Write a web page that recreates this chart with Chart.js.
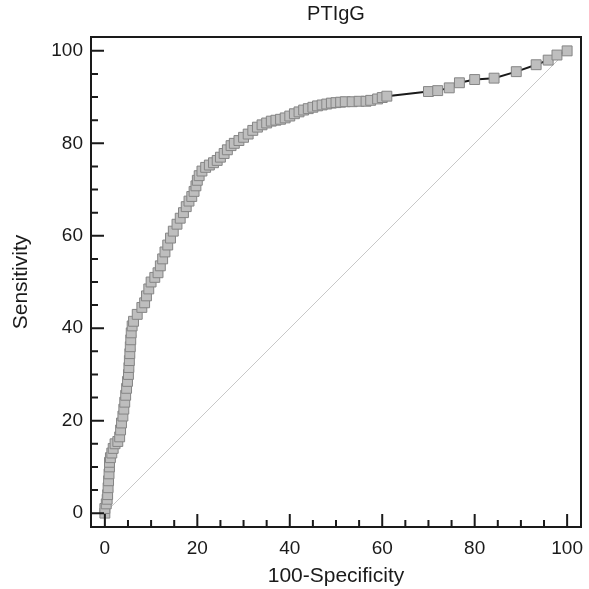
<!DOCTYPE html>
<html>
<head>
<meta charset="utf-8">
<script src="https://cdn.jsdelivr.net/npm/chart.js@4"></script>
<style>
  html, body { margin: 0; padding: 0; background: #fff; }
  #wrap { width: 589px; height: 589px; }
</style>
</head>
<body>
<div id="wrap"><canvas id="roc"></canvas></div>
<script>
/* ─── Data ──────────────────────────────────────────────────────────────── */
const fpr = [
  0, 0, 0.3, 0.5, 0.6, 0.7, 0.8, 0.9, 1, 1, 1.2, 1.5, 1.8, 2.2, 2.8, 3.2,
  3.4, 3.6, 3.9, 4.1, 4.3, 4.5, 4.7, 4.9, 5.1, 5.2, 5.3, 5.4, 5.5, 5.6, 5.7, 5.9,
  6.2, 7, 8, 8.6, 9, 9.5, 10, 10.8, 11.5, 12, 12.5, 13, 13.6, 14.2, 14.8, 15.6,
  16.3, 17, 17.6, 18.2, 18.8, 19.3, 19.7, 20, 20.4, 21, 21.8, 22.6, 23.5, 24.3,
  25, 25.8, 26.5, 27.3, 28, 29, 30, 31, 32, 33, 34, 35, 36, 37, 38, 39, 40, 41,
  42, 43, 44, 45, 46, 47, 48, 49, 50, 51, 52, 53.5, 55, 56.5, 57.5, 59, 60, 61,
  70, 72, 74.5, 76.7, 80, 84.2, 89, 93.3, 95.9, 97.8, 100
];
const tpr = [
  0, 1, 2, 3, 4, 5.5, 7, 8.5, 10, 11, 12, 13, 14, 15, 15.5, 16.5,
  18, 19.5, 21, 22.5, 24, 25.5, 27, 28.5, 30, 31.5, 33, 34.5, 36, 37.5, 39, 40.5,
  41.5, 43, 44.5, 45.5, 47, 48.5, 50, 51, 52, 53.5, 55, 56.5, 58, 59.5, 61, 62.5,
  63.8, 65, 66.3, 67.5, 68.5, 69.6, 70.8, 72, 73, 74, 74.8, 75.3, 75.8, 76.3,
  77, 77.8, 78.6, 79.5, 80, 80.6, 81.3, 82, 82.8, 83.5, 84, 84.4, 84.8, 85, 85.2, 85.5, 85.9, 86.4,
  86.8, 87.2, 87.5, 87.8, 88.1, 88.3, 88.5, 88.7, 88.8, 88.9, 89, 89, 89.1, 89.1, 89.3, 89.6, 89.9, 90.2,
  91.2, 91.4, 92, 93.1, 93.8, 94.1, 95.5, 97, 98, 99.1, 100
];
const refX = [0, 100];
const refY = [0, 100];

const tickMarks  = [0, 5, 10, 15, 20, 25, 30, 35, 40, 45, 50, 55, 60, 65, 70, 75, 80, 85, 90, 95, 100];
const tickLabels = [0, 20, 40, 60, 80, 100];

/* ─── Helpers ────────────────────────────────────────────────────────────── */
const FONT = "'Liberation Sans', Arial, sans-serif";
const INK  = '#1a1a1a';

function toPoints(xs, ys) {
  return xs.map((x, i) => ({ x, y: ys[i] }));
}

// frame on all four sides, tick marks pointing inward
const framePlugin = {
  id: 'frame',
  afterLayout(chart) {
    const t = chart.titleBlock;
    if (t) {
      t.left  = chart.chartArea.left;
      t.right = chart.chartArea.right;
      t.width = t.right - t.left;
    }
  },
  afterDraw(chart) {
    const { ctx, chartArea: a, scales: { x, y } } = chart;
    ctx.save();
    ctx.strokeStyle = INK;
    ctx.lineWidth = 2;
    ctx.strokeRect(a.left, a.top, a.right - a.left, a.bottom - a.top);
    ctx.beginPath();
    tickMarks.forEach(v => {
      const len = tickLabels.includes(v) ? 13 : 7;
      const px = x.getPixelForValue(v);
      ctx.moveTo(px, a.bottom);
      ctx.lineTo(px, a.bottom - len);
      const py = y.getPixelForValue(v);
      ctx.moveTo(a.left, py);
      ctx.lineTo(a.left + len, py);
    });
    ctx.stroke();
    ctx.restore();
  }
};

/* ─── Chart ──────────────────────────────────────────────────────────────── */
new Chart(document.getElementById('roc'), {
  type: 'scatter',
  data: {
    datasets: [
      {
        label: 'PTIgG',
        data: toPoints(fpr, tpr),
        showLine: true,
        borderColor: INK,
        borderWidth: 2,
        pointStyle: 'rect',
        pointRadius: 7,
        pointBackgroundColor: '#bebebe',
        pointBorderColor: '#858585',
        pointBorderWidth: 1,
        order: 1
      },
      {
        label: 'Reference',
        data: toPoints(refX, refY),
        showLine: true,
        borderColor: '#c8c8c8',
        borderWidth: 1,
        pointRadius: 0,
        order: 2
      }
    ]
  },
  options: {
    responsive: true,
    maintainAspectRatio: false,
    animation: false,
    layout: { padding: { left: 0, right: 7, top: 0, bottom: 0 } },
    plugins: {
      legend: { display: false },
      tooltip: { enabled: false },
      title: {
        display: true,
        text: 'PTIgG',
        color: INK,
        font: { family: FONT, size: 20, weight: 'normal' },
        padding: { top: 2, bottom: 11 }
      }
    },
    scales: {
      x: {
        type: 'linear',
        min: -3,
        max: 103,
        afterBuildTicks: s => { s.ticks = tickLabels.map(v => ({ value: v })); },
        afterFit: s => { s.height = 62; s.paddingLeft = 0; s.paddingRight = 0; },
        grid: { display: false, drawTicks: false },
        border: { display: false },
        ticks: { color: INK, padding: 10, font: { family: FONT, size: 19 } },
        title: {
          display: true,
          text: '100-Specificity',
          color: INK,
          font: { family: FONT, size: 21 },
          padding: { top: 0, bottom: 0 }
        }
      },
      y: {
        type: 'linear',
        min: -3,
        max: 103,
        afterBuildTicks: s => { s.ticks = tickLabels.map(v => ({ value: v })); },
        afterFit: s => { s.width = 91; s.paddingTop = 0; s.paddingBottom = 0; },
        grid: { display: false, drawTicks: false },
        border: { display: false },
        ticks: { color: INK, padding: 8, font: { family: FONT, size: 19 } },
        title: {
          display: true,
          text: 'Sensitivity',
          color: INK,
          font: { family: FONT, size: 21 },
          padding: { top: 9, bottom: 0 }
        }
      }
    }
  },
  plugins: [framePlugin]
});
</script>
</body>
</html>
